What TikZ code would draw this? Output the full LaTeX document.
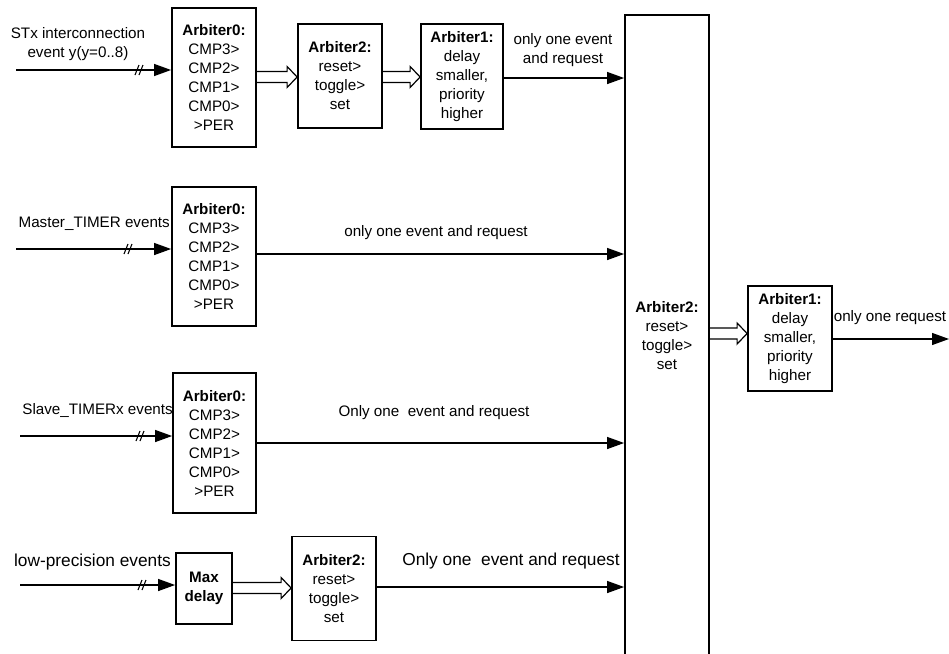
\documentclass[tikz,border=0pt]{standalone}
\usepackage{fontspec}
\setmainfont{Liberation Sans}
\usetikzlibrary{arrows.meta,calc}
\tikzset{
  box/.style={draw, line width=1.8pt, align=center, inner sep=1pt,
    font=\fontsize{15.2}{19}\selectfont},
  lbl/.style={align=center, inner sep=0pt, font=\fontsize{15.2}{19}\selectfont},
  biglbl/.style={lbl, font=\fontsize{17.3}{21}\selectfont},
  sig/.style={line width=1.2pt, -{Triangle[length=17pt,width=12pt]}},
  hol/.style={line width=1.2pt, line join=miter},
  cut/.style={line width=1.1pt},
}
\newcommand\cutmark[1]{\draw[cut] ($(#1)+(-5,5)$) -- ($(#1)+(-1,-5)$) ($(#1)+(-1,5)$) -- ($(#1)+(3,-5)$);}
\newcommand\harrow[3]{\draw[hol] (#1.east |- 0,#3-5.5) -- ($(#2.west |- 0,#3-5.5)+(-10,0)$) -- ++(0,-5) -- (#2.west |- 0,#3) -- ($(#2.west |- 0,#3+5.5)+(-10,5)$) -- ++(0,-5) -- (#1.east |- 0,#3+5.5);}
\begin{document}
\begin{tikzpicture}[x=1pt,y=-1pt]
\useasboundingbox (0,0) rectangle (949,653);
\clip (0,0) rectangle (949,653);

% boxes
\node[box, minimum width=84pt, minimum height=139pt] (a0t) at (214,77.5)
  {\textbf{Arbiter0:}\\CMP3>\\CMP2>\\CMP1>\\CMP0>\\>PER};
\node[box, minimum width=84pt, minimum height=104pt] (a2t) at (340,76)
  {\textbf{Arbiter2:}\\reset>\\toggle>\\set};
\node[box, minimum width=82pt, minimum height=105pt] (a1t) at (462,76.5)
  {\textbf{Arbiter1:}\\delay\\smaller,\\priority\\higher};
\node[box, minimum width=84pt, minimum height=139pt] (a0m) at (214,256.5)
  {\textbf{Arbiter0:}\\CMP3>\\CMP2>\\CMP1>\\CMP0>\\>PER};
\node[box, minimum width=83pt, minimum height=140pt] (a0s) at (214.5,443)
  {\textbf{Arbiter0:}\\CMP3>\\CMP2>\\CMP1>\\CMP0>\\>PER};
\node[box, minimum width=56pt, minimum height=71pt] (md) at (204,588.5)
  {\textbf{Max}\\\textbf{delay}};
\node[box, minimum width=84pt, minimum height=104pt] (a2b) at (334,588.5)
  {\textbf{Arbiter2:}\\reset>\\toggle>\\set};
\node[box, minimum width=84pt, minimum height=650pt] (big) at (667,340) {};
\node[lbl] (bigtxt) at (667,335.5) {\textbf{Arbiter2:}\\reset>\\toggle>\\set};
\node[box, minimum width=84pt, minimum height=105pt] (a1r) at (790,338.5)
  {\textbf{Arbiter1:}\\delay\\smaller,\\priority\\higher};

% input labels
\node[lbl] (t1) at (78,44.5) {STx interconnection\\event y(y=0..8)};
\node[lbl, anchor=east] (t2) at (170,224) {Master\_TIMER events};
\node[lbl, anchor=east] (t3) at (173,410) {Slave\_TIMERx events};
\node[biglbl, anchor=east] (t4) at (171,562) {low-precision events};

% input arrows
\coordinate (in1) at (16,70);
\coordinate (in2) at (16,249);
\coordinate (in3) at (20,436);
\coordinate (in4) at (20,585);
\draw[sig] (in1) -- (a0t.west |- in1);
\draw[sig] (in2) -- (a0m.west |- in2);
\draw[sig] (in3) -- (a0s.west |- in3);
\draw[sig] (in4) -- (md.west |- in4);
\cutmark{140,70}
\cutmark{129,249}
\cutmark{141,436}
\cutmark{143,585}

% hollow (bus) arrows
\harrow{a0t}{a2t}{77}
\harrow{a2t}{a1t}{77}
\harrow{md}{a2b}{588}
\harrow{big}{a1r}{333.5}

% outputs
\draw[sig] (a1t.east |- 0,78) -- (big.west |- 0,78);
\draw[sig] (a0m.east |- 0,254) -- (big.west |- 0,254);
\draw[sig] (a0s.east |- 0,443) -- (big.west |- 0,443);
\draw[sig] (a2b.east |- 0,587) -- (big.west |- 0,587);
\coordinate (out) at (949,339);
\draw[sig] (a1r.east |- out) -- (out);

% output labels
\node[lbl] (o1) at (563,50) {only one event\\and request};
\node[lbl] (o2) at (436,233) {only one event and request};
\node[lbl] (o3) at (434,413) {Only one\ \ event and request};
\node[biglbl] (o4) at (511,561) {Only one\ \ event and request};
\node[lbl] (o5) at (890,318) {only one request};
\end{tikzpicture}
\end{document}
